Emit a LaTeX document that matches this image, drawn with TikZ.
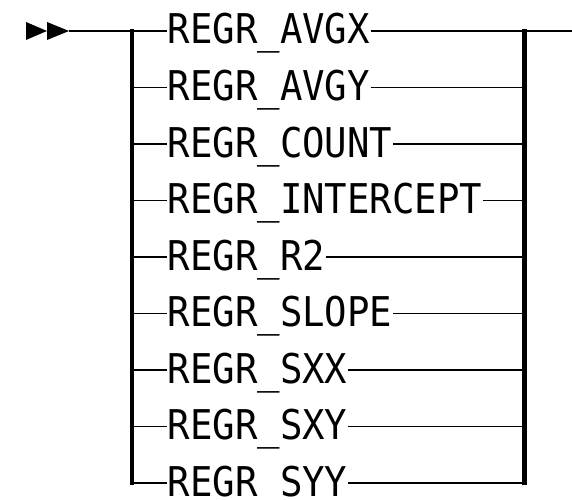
\documentclass[tikz,border=0pt]{standalone}
\usepackage{fontspec}
\newfontfamily\rrfont[FakeStretch=0.91]{DejaVu Sans Mono}
\begin{document}
\begin{tikzpicture}[x=1pt,y=1pt,
  kw/.style={anchor=base west, inner xsep=0.5pt, inner ysep=0pt, font=\rrfont\fontsize{41}{41}\selectfont, text=black},
  ln/.style={line width=1.8pt, black},
  bar/.style={line width=4.5pt, black, line cap=rect},
  tri/.style={fill=black}]
\useasboundingbox (0,0) rectangle (572,499);
\def\ya{468}
% arrowheads
\fill[tri] (26,477) -- (47,468) -- (26,459) -- cycle;
\fill[tri] (47,477) -- (69,468) -- (47,459) -- cycle;
\coordinate (start) at (69,468);
\coordinate (endp) at (572,468);
% rows
\foreach \n/\t [count=\k from 0] in {a/REGR\_AVGX,b/REGR\_AVGY,c/REGR\_COUNT,d/REGR\_INTERCEPT,e/REGR\_R2,f/REGR\_SLOPE,g/REGR\_SXX,h/REGR\_SXY,i/REGR\_SYY}{
  \pgfmathsetmacro{\yy}{468-56.5*\k}
  \coordinate (L\n) at (132,\yy);
  \coordinate (R\n) at (524.5,\yy);
  \node[kw] (T\n) at (167,\yy-13) {\t};
  \draw[ln] (L\n) -- (L\n -| T\n.west);
  \draw[ln] (T\n.east |- R\n) -- (R\n);
}
\draw[ln] (start) -- (La);
\draw[ln] (Ra) -- (endp);
\draw[bar] (La) -- (Li);
\draw[bar] (Ra) -- (Ri);
\end{tikzpicture}
\end{document}
